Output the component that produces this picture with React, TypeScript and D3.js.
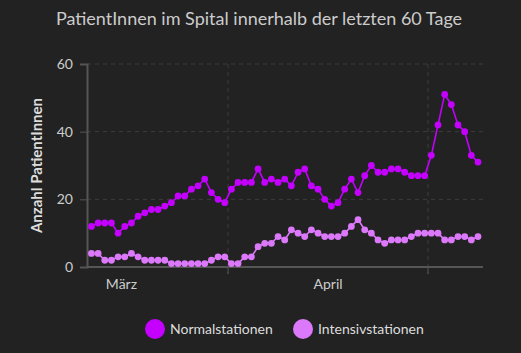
import React, { useEffect, useRef } from 'react';
import * as d3 from 'd3';

// daily values, first day 11 March
const firstDay = new Date(Date.UTC(2021, 2, 11));
const normalstationen = [
  12, 13, 13, 13, 10, 12, 13, 15, 16, 17,
  17, 18, 19, 21, 21, 23, 24, 26, 22, 20,
  19, 23, 25, 25, 25, 29, 25, 26, 25, 26,
  24, 28, 29, 24, 23, 20, 18, 19, 23, 26,
  22, 27, 30, 28, 28, 29, 29, 28, 27, 27,
  27, 33, 42, 51, 48, 42, 40, 33, 31
];
const intensivstationen = [
  4, 4, 2, 2, 3, 3, 4, 3, 2, 2,
  2, 2, 1, 1, 1, 1, 1, 1, 2, 3,
  3, 1, 1, 3, 3, 6, 7, 7, 9, 8,
  11, 10, 9, 11, 10, 9, 9, 9, 10, 12,
  14, 11, 10, 8, 7, 8, 8, 8, 9, 10,
  10, 10, 10, 8, 8, 9, 9, 8, 9
];
const seriesNames = ['Normalstationen', 'Intensivstationen'];
const seriesColors = ['#c400ff', '#dc78fa'];
const yTicks = [0, 20, 40, 60];
const monthLabels = ['März', 'April'];

const W = 521;
const H = 353;

export default function App() {
  const ref = useRef<SVGSVGElement>(null);

  useEffect(() => {
    document.body.style.margin = '0';
    document.body.style.background = '#222';
    const svg = d3.select(ref.current);
    svg.selectAll('*').remove();

    const margin = { top: 64, right: 38, bottom: 86, left: 87 };
    const w = W - margin.left - margin.right;
    const h = H - margin.top - margin.bottom;
    const font = 'Lato, "Open Sans", sans-serif';

    svg.append('rect').attr('width', W).attr('height', H).attr('fill', '#222');

    const dates = d3.utcDay.range(firstDay, d3.utcDay.offset(firstDay, normalstationen.length));
    const x = d3.scaleUtc()
      .domain([d3.utcHour.offset(firstDay, -4), d3.utcHour.offset(dates[dates.length - 1], 30)])
      .range([0, w]);
    const y = d3.scaleLinear().domain([0, 60]).range([h, 0]);

    const g = svg.append('g').attr('transform', `translate(${margin.left},${margin.top})`);

    // grid
    g.selectAll('.hgrid')
      .data(yTicks.filter(t => t > 0))
      .join('line')
      .attr('x1', 0).attr('x2', w)
      .attr('y1', d => y(d)).attr('y2', d => y(d))
      .attr('stroke', '#3d3d3d')
      .attr('stroke-dasharray', '4,4');

    const monthStarts = d3.utcMonth.range(x.domain()[0], x.domain()[1]).filter(d => x(d) > 1);
    g.selectAll('.vgrid')
      .data(monthStarts)
      .join('line')
      .attr('x1', d => x(d)).attr('x2', d => x(d))
      .attr('y1', 0).attr('y2', h + 7)
      .attr('stroke', '#3d3d3d')
      .attr('stroke-dasharray', '4,4');
    g.selectAll('.vtick')
      .data(monthStarts)
      .join('line')
      .attr('x1', d => x(d)).attr('x2', d => x(d))
      .attr('y1', h).attr('y2', h + 7)
      .attr('stroke', '#555');

    // y axis
    const yAxis = g.append('g').call(d3.axisLeft(y).tickValues(yTicks).tickSize(7).tickPadding(7));
    yAxis.select('.domain').attr('stroke', '#555').attr('stroke-width', 2);
    yAxis.selectAll('.tick line').attr('stroke', '#555');
    yAxis.selectAll('.tick text')
      .attr('fill', '#ccc').attr('font-size', 14).attr('font-family', font);

    g.append('line')
      .attr('x1', 0).attr('x2', w).attr('y1', h).attr('y2', h)
      .attr('stroke', '#555').attr('stroke-width', 2);

    // month labels at mid-month
    const midMonths = d3.utcMonth.range(d3.utcMonth.floor(x.domain()[0]), x.domain()[1])
      .slice(0, monthLabels.length)
      .map(d => d3.utcDay.offset(d, 15));
    g.selectAll('.mlabel')
      .data(midMonths)
      .join('text')
      .attr('x', d => x(d))
      .attr('y', h + 22)
      .attr('text-anchor', 'middle')
      .attr('fill', '#ccc')
      .attr('font-size', 14)
      .attr('font-family', font)
      .text((d, i) => monthLabels[i]);

    // lines and points
    const allSeries = [normalstationen, intensivstationen];
    allSeries.forEach((vals, si) => {
      const line = d3.line<number>()
        .x((d, i) => x(d3.utcHour.offset(dates[i], 12)))
        .y(d => y(d));
      g.append('path')
        .datum(vals)
        .attr('d', line)
        .attr('fill', 'none')
        .attr('stroke', seriesColors[si])
        .attr('stroke-width', 1.6);
      g.selectAll(`.pt${si}`)
        .data(vals)
        .join('circle')
        .attr('cx', (d, i) => x(d3.utcHour.offset(dates[i], 12)))
        .attr('cy', d => y(d))
        .attr('r', 3.4)
        .attr('fill', seriesColors[si]);
    });

    // axis title
    svg.append('text')
      .attr('transform', `translate(42, ${margin.top + h / 2}) rotate(-90)`)
      .attr('text-anchor', 'middle')
      .attr('fill', '#ddd')
      .attr('font-size', 15)
      .attr('font-weight', 'bold')
      .attr('font-family', font)
      .text('Anzahl PatientInnen');

    // title
    svg.append('text')
      .attr('x', 259)
      .attr('y', 25)
      .attr('text-anchor', 'middle')
      .attr('fill', '#ccc')
      .attr('font-size', 18)
      .attr('font-family', font)
      .text('PatientInnen im Spital innerhalb der letzten 60 Tage');

    // legend
    const legendX = [155, 303];
    const lg = svg.selectAll('.legend')
      .data(seriesNames)
      .join('g')
      .attr('transform', (d, i) => `translate(${legendX[i]}, 329)`);
    lg.append('circle').attr('r', 10).attr('fill', (d, i) => seriesColors[i]);
    lg.append('text')
      .attr('x', 15)
      .attr('dy', '0.35em')
      .attr('fill', '#ddd')
      .attr('font-size', 14)
      .attr('font-family', font)
      .text(d => d);
  }, []);

  return <svg ref={ref} width={W} height={H} style={{ display: 'block' }} />;
}
